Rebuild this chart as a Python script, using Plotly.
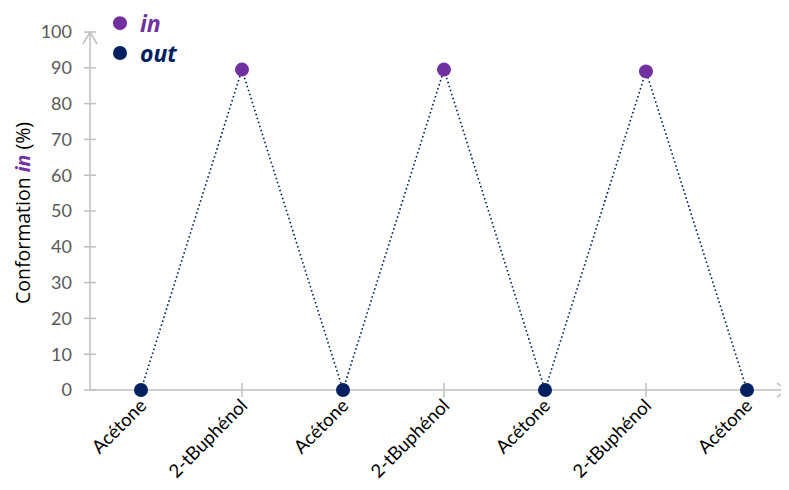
import plotly.graph_objects as go

categories = ["Acétone", "2-tBuphénol", "Acétone", "2-tBuphénol", "Acétone", "2-tBuphénol", "Acétone"]
conformation_in = [0, 89.5, 0, 89.5, 0, 89, 0]
in_values = [None, 89.5, None, 89.5, None, 89, None]
out_values = [0, None, 0, None, 0, None, 0]
y_ticks = [0, 10, 20, 30, 40, 50, 60, 70, 80, 90, 100]
y_title = "Conformation <b><i><span style='color:#7030a0'>in</span></i></b> (%)"

IN_COL = "#7030a0"
OUT_COL = "#002060"
AX_COL = "#bfbfbf"
FONT = "Lato, 'Open Sans', sans-serif"

xs = list(range(len(categories)))
x_lo, x_hi = -0.505, 6.416
y_lo, y_hi = 0, 100


def px(v):
    return (v - x_lo) / (x_hi - x_lo)


def py(v):
    return (v - y_lo) / (y_hi - y_lo)


fig = go.Figure()
fig.add_trace(go.Scatter(x=xs, y=conformation_in, mode="lines",
                         line=dict(color=OUT_COL, width=1.6, dash="1.6px,2.6px"),
                         showlegend=False, hoverinfo="skip", cliponaxis=False))
fig.add_trace(go.Scatter(x=xs, y=in_values, mode="markers",
                         marker=dict(color=IN_COL, size=14),
                         name="<b><i><span style='color:#7030a0'>in</span></i></b>",
                         legend="legend", cliponaxis=False))
fig.add_trace(go.Scatter(x=xs, y=out_values, mode="markers",
                         marker=dict(color=OUT_COL, size=14),
                         name="<b><i><span style='color:#002060'>out</span></i></b>",
                         legend="legend2", cliponaxis=False))

line_style = dict(color=AX_COL, width=1.5)
shapes = []
shapes.append(dict(type="line", xref="paper", yref="paper", x0=0, x1=1, y0=py(0), y1=py(0),
                   line=line_style, layer="below"))
shapes.append(dict(type="line", xref="paper", yref="paper", x0=0, x1=0, y0=py(y_lo), y1=py(y_hi),
                   line=line_style, layer="below"))
for v in y_ticks:
    shapes.append(dict(type="line", xref="paper", yref="paper", xsizemode="pixel", xanchor=0,
                       x0=-6, x1=6, y0=py(v), y1=py(v), line=line_style))
for i in xs[1::2]:
    shapes.append(dict(type="line", xref="paper", yref="paper", ysizemode="pixel", yanchor=py(0),
                       y0=-7, y1=7, x0=px(i), x1=px(i), line=line_style))
shapes.append(dict(type="path", xref="paper", yref="paper", xsizemode="pixel", ysizemode="pixel",
                   xanchor=0, yanchor=py(y_hi), path="M -7,-12 L 0,0 L 7,-12",
                   line=line_style))
shapes.append(dict(type="path", xref="paper", yref="paper", xsizemode="pixel", ysizemode="pixel",
                   xanchor=1, yanchor=py(0), path="M -12,7 L -2,0 L -12,-7",
                   line=line_style))

legend_font = dict(family="'Open Sans', sans-serif", size=23)
fig.update_layout(
    width=789, height=490,
    margin=dict(l=82, r=8, t=24, b=108, autoexpand=False),
    paper_bgcolor="white", plot_bgcolor="white",
    font=dict(family=FONT, size=18, color="#595959"),
    shapes=shapes,
    showlegend=True,
    legend=dict(x=0.1166, y=0.969, xref="container", yref="container", xanchor="left",
                yanchor="middle", font=legend_font, bgcolor="rgba(0,0,0,0)", itemwidth=30),
    legend2=dict(x=0.1166, y=0.908, xref="container", yref="container", xanchor="left",
                 yanchor="middle", font=legend_font, bgcolor="rgba(0,0,0,0)", itemwidth=30),
    annotations=[dict(text=y_title, xref="paper", yref="paper", x=0, y=0.5, xshift=-68,
                      yshift=-2, textangle=-90, showarrow=False, xanchor="center",
                      yanchor="middle",
                      font=dict(family="'Open Sans', sans-serif", size=19.5, color="black"))],
    xaxis=dict(range=[x_lo, x_hi], tickmode="array", tickvals=xs, ticktext=categories,
               tickangle=-45, showgrid=False, zeroline=False, showline=False, ticks="",
               automargin=False,
               tickfont=dict(family=FONT, size=18.5, color="black"), fixedrange=True),
    yaxis=dict(range=[y_lo, y_hi], tickmode="array", tickvals=y_ticks, showgrid=False,
               zeroline=False, showline=False, ticks="", ticklabelstandoff=17,
               automargin=False,
               tickfont=dict(family=FONT, size=18, color="#595959"),
               fixedrange=True),
)

fig.write_html("out.html")
